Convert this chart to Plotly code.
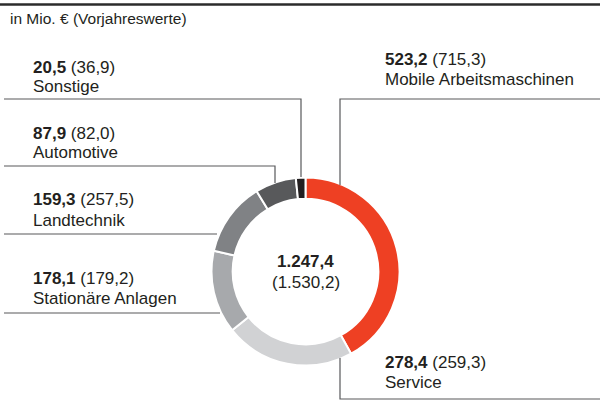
import plotly.graph_objects as go

# ---- data ----
categories = ["Mobile Arbeitsmaschinen", "Service", "Stationäre Anlagen",
              "Landtechnik", "Automotive", "Sonstige"]
values = [523.2, 278.4, 178.1, 159.3, 87.9, 20.5]
prev_values = [715.3, 259.3, 179.2, 257.5, 82.0, 36.9]
colors = ["#EE4023", "#D1D2D4", "#A7A9AC", "#808285", "#58595B", "#231F20"]
unit_title = "in Mio. € (Vorjahreswerte)"

W, H = 600, 419


def de(v):
    s = f"{v:,.1f}"
    return s.replace(",", "X").replace(".", ",").replace("X", ".")


def px(x):
    return x / W


def py(y):
    return 1 - y / H


FONT = "Liberation Sans, Arial, Helvetica, sans-serif"
TXT = "#231F20"
LINE = "#58595B"
FS = 17

cx, cy, r = 305.5, 271.5, 94.0

fig = go.Figure()
fig.add_trace(go.Pie(
    labels=categories, values=values, sort=False, direction="clockwise",
    rotation=0, hole=0.775,
    marker=dict(colors=colors, line=dict(color="white", width=2)),
    textinfo="none", hoverinfo="label+value", showlegend=False,
    domain=dict(x=[px(cx - r), px(cx + r)], y=[py(cy + r), py(cy - r)]),
))

annotations = []
shapes = []

# header rule
shapes.append(dict(type="path", xref="paper", yref="paper", layer="above",
                   path=f"M 0,{py(4.5)} L 1,{py(4.5)}",
                   line=dict(color="#2B2B2B", width=2.5)))
annotations.append(dict(text=unit_title, x=px(8), y=py(18), xref="paper", yref="paper",
                        xanchor="left", yanchor="middle", showarrow=False,
                        font=dict(family=FONT, size=15.5, color=TXT)))

# label layout: (text x, value-line y, leader path points)
layout_info = {
    "Sonstige": (31, 67, [(4, 99), (301, 99), (301, 177)]),
    "Automotive": (31, 133, [(4, 166), (275, 166), (275, 183)]),
    "Landtechnik": (31, 200, [(4, 234), (217, 234)]),
    "Stationäre Anlagen": (31, 278, [(4, 313), (220, 313)]),
    "Mobile Arbeitsmaschinen": (383, 60, [(600, 99), (340, 99), (340, 185)]),
    "Service": (383, 362, [(340, 358), (340, 399), (600, 399)]),
}

for name, v, pv in zip(categories, values, prev_values):
    tx, ty, pts = layout_info[name]
    annotations.append(dict(text=f"<b>{de(v)}</b> ({de(pv)})", x=px(tx), y=py(ty),
                            xref="paper", yref="paper", xanchor="left", yanchor="middle",
                            showarrow=False, font=dict(family=FONT, size=FS, color=TXT)))
    annotations.append(dict(text=name, x=px(tx), y=py(ty + 20),
                            xref="paper", yref="paper", xanchor="left", yanchor="middle",
                            showarrow=False, font=dict(family=FONT, size=FS, color=TXT)))
    path = "M " + " L ".join(f"{px(a)},{py(b)}" for a, b in pts)
    shapes.append(dict(type="path", xref="paper", yref="paper", path=path,
                       line=dict(color=LINE, width=1.2)))

# center totals
annotations.append(dict(text=f"<b>{de(sum(values))}</b>", x=px(cx), y=py(261),
                        xref="paper", yref="paper", xanchor="center", yanchor="middle",
                        showarrow=False, font=dict(family=FONT, size=FS, color=TXT)))
annotations.append(dict(text=f"({de(sum(prev_values))})", x=px(cx), y=py(282),
                        xref="paper", yref="paper", xanchor="center", yanchor="middle",
                        showarrow=False, font=dict(family=FONT, size=FS, color=TXT)))

fig.update_layout(
    width=W, height=H, margin=dict(l=0, r=0, t=0, b=0),
    paper_bgcolor="white", plot_bgcolor="white",
    annotations=annotations, shapes=shapes, showlegend=False,
)

fig.write_html("out.html", config={"displayModeBar": False},
               post_script="document.body.style.margin='0';document.body.style.padding='0';")
